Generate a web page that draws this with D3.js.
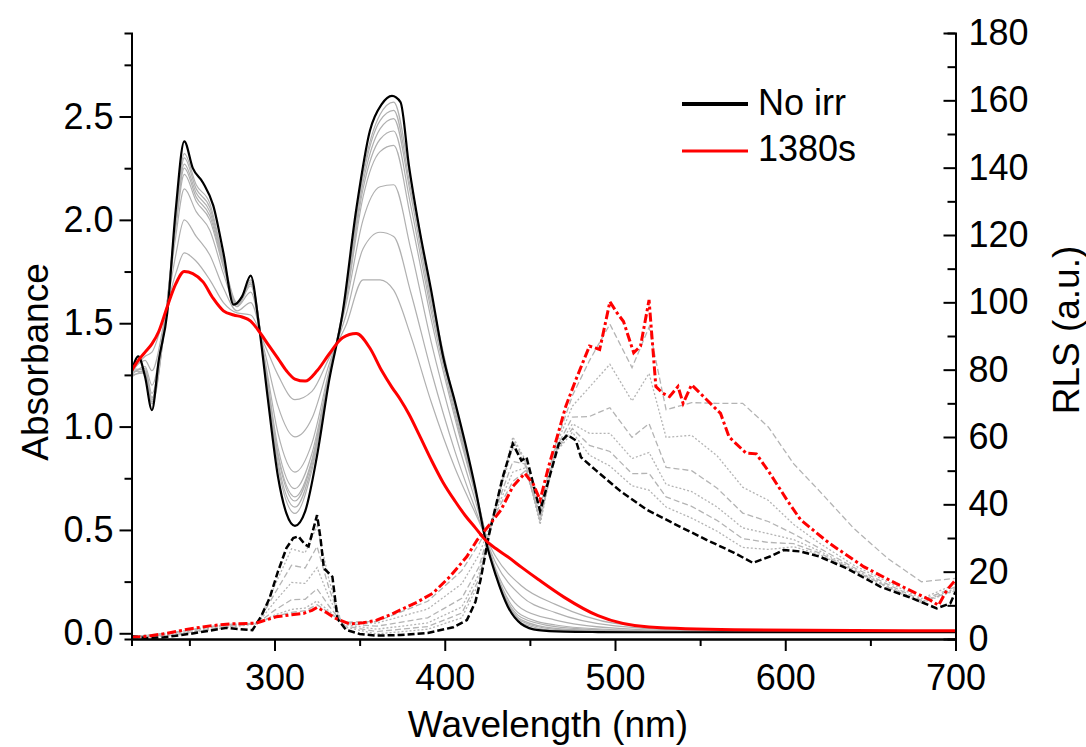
<!DOCTYPE html>
<html>
<head>
<meta charset="utf-8">
<script src="https://cdn.jsdelivr.net/npm/d3@7/dist/d3.min.js"></script>
<style>
    body { margin: 0; background: #fff; }
    svg text { font-family: "Liberation Sans", Arial, sans-serif; fill: #000; }
</style>
</head>
<body>
<svg id="chart" width="1086" height="747"></svg>
<script>
/**
 * Absorbance spectra (left axis). Black = no irradiation, red = 1380 s,
 * grey = intermediate irradiation times.
 */
var absWl = [216, 220, 224, 228, 232, 237, 242, 247, 252, 258, 264, 270, 276, 281, 286,
    291, 296, 302, 307, 312, 318, 325, 332, 340, 348, 356, 363, 369, 374, 379,
    385, 392, 399, 406, 412, 418, 424, 430, 437, 445, 455, 470, 490, 520, 570, 640, 700];
var absNoIrr = [1.26, 1.34, 1.24, 1.08, 1.32, 1.55, 2.05, 2.38, 2.25, 2.18, 2.07, 1.84, 1.59, 1.63, 1.73,
    1.48, 1.14, 0.76, 0.58, 0.52, 0.59, 0.86, 1.22, 1.55, 2.05, 2.43, 2.56, 2.60, 2.57, 2.26,
    1.96, 1.66, 1.34, 1.12, 0.92, 0.70, 0.45, 0.28, 0.13, 0.045, 0.015, 0.008, 0.006, 0.005, 0.005, 0.005, 0.005];
var abs1380 = [1.27, 1.32, 1.36, 1.40, 1.46, 1.58, 1.69, 1.75, 1.74, 1.70, 1.62, 1.56, 1.54, 1.53, 1.51,
    1.46, 1.40, 1.33, 1.27, 1.23, 1.22, 1.27, 1.35, 1.43, 1.45, 1.38, 1.27, 1.19, 1.13, 1.06,
    0.96, 0.84, 0.73, 0.64, 0.57, 0.51, 0.45, 0.41, 0.37, 0.32, 0.26, 0.175, 0.085, 0.03, 0.017, 0.013, 0.012];

var absGrayWl = [216, 224, 228, 235, 242, 247, 254, 262, 270, 278, 286, 294, 302, 312, 322,
    332, 342, 352, 362, 370, 380, 392, 406, 418, 430, 445, 465, 500, 560, 700];
var absGray1 = [1.25, 1.26, 1.11, 1.45, 2.02, 2.32, 2.17, 2.08, 1.81, 1.60, 1.71, 1.31, 0.81, 0.58, 0.79,
    1.23, 1.65, 2.23, 2.51, 2.57, 2.19, 1.64, 1.11, 0.70, 0.28, 0.05, 0.014, 0.007, 0.005, 0.005];
var absGray2 = [1.27, 1.26, 1.12, 1.45, 2.00, 2.30, 2.15, 2.06, 1.80, 1.59, 1.70, 1.32, 0.83, 0.61, 0.81,
    1.24, 1.64, 2.21, 2.48, 2.53, 2.15, 1.62, 1.10, 0.69, 0.29, 0.058, 0.019, 0.009, 0.006, 0.005];
var absGray3 = [1.24, 1.27, 1.13, 1.46, 1.99, 2.27, 2.13, 2.04, 1.79, 1.59, 1.69, 1.32, 0.86, 0.64, 0.83,
    1.24, 1.63, 2.18, 2.44, 2.49, 2.12, 1.59, 1.08, 0.68, 0.29, 0.065, 0.024, 0.011, 0.006, 0.006];
var absGray4 = [1.28, 1.27, 1.14, 1.46, 1.98, 2.25, 2.11, 2.02, 1.78, 1.59, 1.69, 1.32, 0.87, 0.66, 0.84,
    1.25, 1.62, 2.15, 2.39, 2.43, 2.07, 1.56, 1.06, 0.68, 0.29, 0.076, 0.032, 0.014, 0.007, 0.006];
var absGray5 = [1.26, 1.28, 1.16, 1.47, 1.96, 2.22, 2.09, 2.00, 1.77, 1.58, 1.68, 1.33, 0.90, 0.70, 0.87,
    1.25, 1.61, 2.11, 2.33, 2.36, 2.01, 1.52, 1.04, 0.67, 0.30, 0.088, 0.04, 0.017, 0.007, 0.006];
var absGray6 = [1.25, 1.29, 1.20, 1.48, 1.92, 2.15, 2.04, 1.95, 1.74, 1.58, 1.65, 1.34, 0.97, 0.78, 0.92,
    1.27, 1.59, 2.00, 2.16, 2.17, 1.86, 1.41, 0.97, 0.64, 0.31, 0.12, 0.064, 0.025, 0.009, 0.007];
var absGray7 = [1.27, 1.32, 1.27, 1.50, 1.83, 2.00, 1.92, 1.83, 1.67, 1.56, 1.60, 1.37, 1.10, 0.95, 1.04,
    1.30, 1.54, 1.86, 1.94, 1.92, 1.65, 1.27, 0.88, 0.60, 0.34, 0.18, 0.10, 0.036, 0.011, 0.008];
var absGray8 = [1.26, 1.34, 1.36, 1.53, 1.74, 1.84, 1.80, 1.71, 1.60, 1.55, 1.54, 1.40, 1.25, 1.13, 1.17,
    1.33, 1.49, 1.71, 1.71, 1.66, 1.44, 1.12, 0.80, 0.58, 0.37, 0.23, 0.14, 0.048, 0.014, 0.010];

/**
 * Resonance light scattering spectra (right axis).
 */
var rlsNoIrrWl = [216, 225, 235, 250, 262, 272, 282, 287, 292, 297, 302, 307, 311, 314, 318,
    320, 323, 325, 327, 329, 334, 337, 342, 350, 360, 374, 390, 405, 413, 418,
    421, 426, 434, 440, 445, 448, 452, 456, 462, 467, 472, 477, 480, 489, 503,
    519, 538, 554, 570, 581, 591, 599, 609, 620, 636, 656, 675, 689, 697, 700];
var rlsNoIrr = [0.8, 0.3, 0.5, 1.5, 2.5, 3.3, 2.8, 2.6, 6.6, 12, 20, 27, 30, 30.5, 28,
    27.5, 33, 36.8, 30, 21, 18.5, 6, 2.7, 1.5, 1.0, 1.2, 1.8, 3.5, 5.6, 11,
    17.5, 31, 48, 58, 53, 54, 46, 38, 49, 58, 60.6, 59, 54, 50, 44,
    38.3, 33.4, 29.4, 25.6, 22.6, 24.5, 26.4, 26, 24.5, 21, 15.5, 12, 9.1, 10.6, 14];

var rls1380Wl = [216, 225, 237, 250, 262, 274, 289, 301, 310, 317, 322, 325, 330, 336, 344,
    352, 360, 368, 376, 384, 393, 403, 413, 419, 427, 433, 440, 447, 452, 456,
    461, 466, 471, 477, 481, 485, 491, 494, 497, 501, 505, 511, 515, 520, 524,
    528, 532, 537, 540, 545, 550, 554, 562, 567, 577, 583, 591, 601, 609, 626,
    646, 665, 685, 690, 695, 700];
var rls1380 = [0.5, 0.8, 1.7, 3.0, 3.9, 4.5, 4.7, 6.6, 7.2, 7.6, 8.5, 9.4, 8.0, 6.1, 4.5,
    4.8, 5.6, 7.2, 9.1, 11, 13.6, 18.5, 24.5, 29.4, 34.4, 38.3, 45.3, 49.2, 46, 41.3,
    51.2, 60, 69, 77, 82, 87, 86, 93, 100.2, 97, 94.3, 85, 87, 100.7, 75,
    73, 72, 75, 70, 75.5, 73, 71, 67, 60, 55.2, 55, 49.2, 41.3, 35.4, 28.4,
    21.5, 16.5, 11.6, 10, 14.6, 17.5];

var rlsGrayWl = [216, 240, 270, 290, 300, 310, 318, 325, 332, 340, 360, 390, 410, 420, 430,
    440, 447, 456, 465, 475, 485, 497, 510, 520, 530, 545, 560, 575, 590, 605,
    620, 640, 660, 680, 700];
var rlsGray1 = [0.7, 0.94, 3.3, 4.5, 15.7, 26.8, 25.6, 33.5, 17.6, 3.7, 1.5, 2.9, 6.3, 16.5, 39.7,
    60, 53.5, 36, 55.3, 61.4, 54.6, 51.4, 45.5, 44.2, 39.2, 35.9, 32, 27.2, 26.6, 27.4,
    25.1, 20.3, 15.3, 10.7, 14.4];
var rlsGray2 = [0.8, 1.2, 3.6, 4.6, 13.4, 21.9, 21.1, 27.5, 15.1, 4.0, 2.2, 3.7, 7.7, 17.7, 39.5,
    59, 53.1, 35, 55.5, 62.5, 57.5, 55.7, 49.1, 49.2, 42.2, 39.4, 35.2, 29.8, 28.7, 28.3,
    25.6, 20.5, 15.5, 10.9, 14.6];
var rlsGray3 = [0.6, 1.5, 3.8, 4.6, 11.0, 16.8, 16.5, 21.2, 12.4, 4.4, 2.9, 4.8, 9.5, 19.2, 39.2,
    57, 52.7, 34, 55.8, 63.9, 61.1, 61.1, 53.6, 55.4, 45.9, 43.8, 39.2, 33, 31.3, 29.5,
    26.2, 20.8, 15.8, 11.1, 15];
var rlsGray4 = [0.7, 1.76, 4.1, 4.7, 8.5, 11.7, 11.8, 14.9, 9.8, 4.7, 3.8, 6.3, 12.1, 21.3, 38.7,
    52.7, 52, 35, 56.3, 65.9, 66.1, 68.7, 59.9, 64, 51.0, 50, 44.8, 37.4, 34.9, 31.2,
    27, 21.3, 16.3, 11.5, 15.5];
var rlsGray5 = [0.7, 1.9, 4.2, 4.7, 7.1, 8.8, 9.2, 11.3, 8.3, 4.9, 4.7, 8.9, 16.4, 24.9, 38,
    49.6, 50.8, 37, 57, 69.2, 74.8, 81.6, 70.7, 78.9, 59.9, 60.5, 54.4, 45.1, 41.2, 34,
    28.5, 22, 17, 12, 16.3];
var rlsGray6 = [0.6, 1.96, 4.3, 4.7, 6.7, 7.9, 8.4, 10.2, 7.8, 5.0, 5.2, 11.2, 20.3, 28.2, 37.4,
    46.8, 49.8, 39, 57.6, 72.3, 82.7, 93.5, 80.6, 92.6, 68.1, 70.2, 70, 70, 63, 52,
    44, 33, 24, 17, 18];

var xTicks = [300, 400, 500, 600, 700];
var xMinorTicks = [250, 350, 450, 550, 650];
var absTicks = [0, 0.5, 1.0, 1.5, 2.0, 2.5];
var absMinorTicks = [0.25, 0.75, 1.25, 1.75, 2.25, 2.75];
var rlsTicks = [0, 20, 40, 60, 80, 100, 120, 140, 160, 180];
var rlsMinorTicks = [10, 30, 50, 70, 90, 110, 130, 150, 170];
var legendLabels = ['No irr', '1380s'];

var FONT = 36;
var TITLE_FONT = 37;
var svg = d3.select('#chart');

var x = d3.scaleLinear().domain([216, 700]).range([131.5, 955.5]);
var yAbs = d3.scaleLinear().domain([-0.0276, 2.904]).range([639, 33]);
var yRls = d3.scaleLinear().domain([0, 180]).range([639, 33]);

svg.append('defs').append('clipPath').attr('id', 'plot-clip')
    .append('rect')
    .attr('x', 131.5).attr('y', 33)
    .attr('width', 824).attr('height', 606);

var plot = svg.append('g').attr('clip-path', 'url(#plot-clip)');

// zip a wavelength array with a value array
function pairs(wl, vals) {
    return wl.map(function(w, i) { return [w, vals[i]]; });
}

var absLine = d3.line()
    .x(function(d) { return x(d[0]); })
    .y(function(d) { return yAbs(d[1]); })
    .curve(d3.curveMonotoneX);
var rlsLine = d3.line()
    .x(function(d) { return x(d[0]); })
    .y(function(d) { return yRls(d[1]); })
    .curve(d3.curveLinear);

// grey RLS curves (alternating dots / dashes)
[rlsGray1, rlsGray2, rlsGray3, rlsGray4, rlsGray5, rlsGray6].forEach(function(g, i) {
    plot.append('path')
        .datum(pairs(rlsGrayWl, g))
        .attr('d', rlsLine)
        .attr('fill', 'none')
        .attr('stroke', '#b4b4b4')
        .attr('stroke-width', 1.3)
        .attr('stroke-dasharray', i % 2 === 0 ? '2,2' : '6,3');
});

// grey absorbance curves
[absGray1, absGray2, absGray3, absGray4, absGray5, absGray6, absGray7, absGray8].forEach(function(g) {
    plot.append('path')
        .datum(pairs(absGrayWl, g))
        .attr('d', absLine)
        .attr('fill', 'none')
        .attr('stroke', '#b0b0b0')
        .attr('stroke-width', 1.2);
});

plot.append('path')
    .datum(pairs(rlsNoIrrWl, rlsNoIrr))
    .attr('d', rlsLine)
    .attr('fill', 'none')
    .attr('stroke', '#000')
    .attr('stroke-width', 2.5)
    .attr('stroke-dasharray', '7,3');

plot.append('path')
    .datum(pairs(absWl, absNoIrr))
    .attr('d', absLine)
    .attr('fill', 'none')
    .attr('stroke', '#000')
    .attr('stroke-width', 2.2);

plot.append('path')
    .datum(pairs(absWl, abs1380))
    .attr('d', absLine)
    .attr('fill', 'none')
    .attr('stroke', '#ff0000')
    .attr('stroke-width', 3);

plot.append('path')
    .datum(pairs(rls1380Wl, rls1380))
    .attr('d', rlsLine)
    .attr('fill', 'none')
    .attr('stroke', '#ff0000')
    .attr('stroke-width', 3)
    .attr('stroke-dasharray', '9,3,3,3');

// axes
function styleAxis(g) {
    g.selectAll('path, line').attr('stroke', '#000').attr('stroke-width', 2);
    g.selectAll('text').attr('font-size', FONT).attr('fill', '#000')
        .attr('font-family', '"Liberation Sans", Arial, sans-serif');
}

svg.append('g').attr('transform', 'translate(0,639)')
    .call(d3.axisBottom(x).tickValues(xMinorTicks).tickSize(7).tickFormat(''))
    .call(styleAxis);
svg.append('g').attr('transform', 'translate(0,639)')
    .call(d3.axisBottom(x).tickValues(xTicks).tickSize(12).tickSizeOuter(0).tickPadding(13))
    .call(styleAxis);

svg.append('g').attr('transform', 'translate(131.5,0)')
    .call(d3.axisLeft(yAbs).tickValues(absMinorTicks).tickSize(7).tickFormat(''))
    .call(styleAxis);
svg.append('g').attr('transform', 'translate(131.5,0)')
    .call(d3.axisLeft(yAbs).tickValues(absTicks).tickSize(12).tickSizeOuter(0)
        .tickPadding(6).tickFormat(d3.format('.1f')))
    .call(styleAxis);

svg.append('g').attr('transform', 'translate(955.5,0)')
    .call(d3.axisRight(yRls).tickValues(rlsMinorTicks).tickSize(-8).tickFormat(''))
    .call(styleAxis);
svg.append('g').attr('transform', 'translate(955.5,0)')
    .call(d3.axisRight(yRls).tickValues(rlsTicks).tickSize(-12).tickSizeOuter(0).tickPadding(13))
    .call(styleAxis);

// axis titles
svg.append('text')
    .attr('transform', 'translate(48,362) rotate(-90)')
    .attr('text-anchor', 'middle')
    .attr('font-size', TITLE_FONT)
    .text('Absorbance');
svg.append('text')
    .attr('transform', 'translate(1079,330) rotate(-90)')
    .attr('text-anchor', 'middle')
    .attr('font-size', TITLE_FONT)
    .text('RLS (a.u.)');
svg.append('text')
    .attr('x', 548).attr('y', 737)
    .attr('text-anchor', 'middle')
    .attr('font-size', TITLE_FONT)
    .text('Wavelength (nm)');

// legend
var legend = svg.append('g');
legend.selectAll('line').data(legendLabels).enter().append('line')
    .attr('x1', 682).attr('x2', 748)
    .attr('y1', function(d, i) { return i === 0 ? 104 : 151; })
    .attr('y2', function(d, i) { return i === 0 ? 104 : 151; })
    .attr('stroke', function(d, i) { return i === 0 ? '#000' : '#ff0000'; })
    .attr('stroke-width', function(d, i) { return i === 0 ? 4 : 3; });
legend.selectAll('text').data(legendLabels).enter().append('text')
    .attr('x', 758)
    .attr('y', function(d, i) { return i === 0 ? 115 : 161; })
    .attr('font-size', FONT)
    .text(function(d) { return d; });
</script>
</body>
</html>
